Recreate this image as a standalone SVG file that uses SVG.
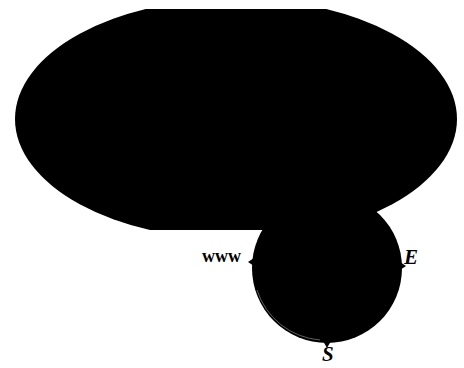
<svg xmlns="http://www.w3.org/2000/svg" width="464" height="368" viewBox="0 0 464 368">
<style>
.blk{fill:#000}
.lbl{font-family:"Liberation Serif",serif;font-weight:bold;fill:#000}
.it{font-style:italic}
</style>
<defs>
<clipPath id="clipE"><rect x="0" y="9" width="464" height="221"/></clipPath>
</defs>
<rect width="464" height="368" fill="#fff"/>
<g id="oval">
<ellipse class="blk" cx="236" cy="119" rx="221" ry="120.5" clip-path="url(#clipE)"/>
</g>
<g id="disc">
<circle class="blk" cx="327" cy="268" r="75"/>
<path d="M257,290 A72,72 0 0 0 320,340" fill="none" stroke="#777" stroke-width="0.8"/>
<path d="M248,262 L254,258 L254,266 Z" class="blk"/>
<path d="M406,266 L400,262 L400,270 Z" class="blk"/>
<path d="M327,348 L323,341 L331,341 Z" class="blk"/>
</g>
<g id="labels">
<text class="lbl" x="202" y="262" font-size="18">www</text>
<text class="lbl it" x="404" y="264" font-size="21">E</text>
<text class="lbl it" x="322" y="361" font-size="21">S</text>
</g>
<g id="connectors"></g>
</svg>
